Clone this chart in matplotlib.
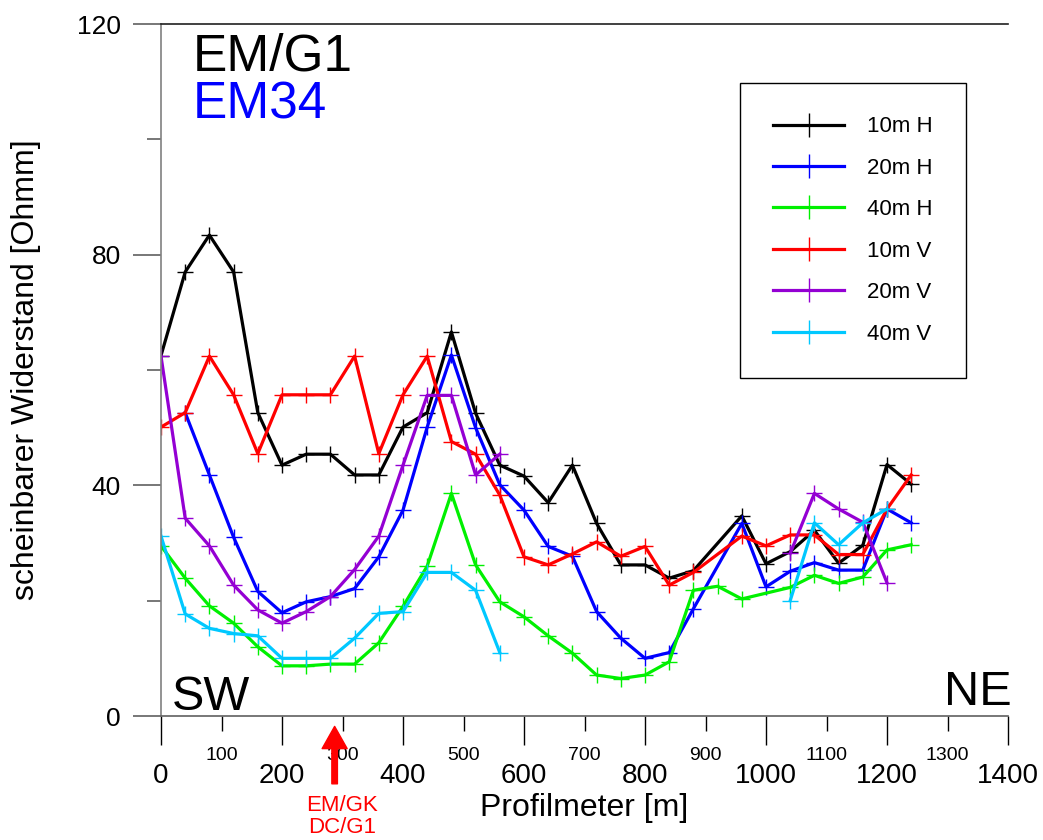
import numpy as np
import matplotlib
matplotlib.use('Agg')
import matplotlib.pyplot as plt
import matplotlib.transforms as mtransforms
from matplotlib.ticker import MultipleLocator

plt.rcParams['font.family'] = ['Liberation Sans', 'DejaVu Sans']

# profile positions [m] and apparent resistivity [Ohmm]
x_h10 = [0, 40, 80, 120, 160, 200, 240, 280, 320, 360, 400, 440, 480, 520, 560, 600,
         640, 680, 720, 760, 800, 840, 880, 960, 1000, 1040, 1080, 1120, 1160, 1200, 1240]
h10 = [62.5, 77.0, 83.4, 77.0, 52.6, 43.5, 45.4, 45.4, 41.8, 41.8, 50.1, 52.6, 66.6, 52.5, 43.5, 41.6,
       37.0, 43.5, 33.4, 26.2, 26.2, 23.9, 25.2, 34.7, 26.4, 28.5, 32.2, 26.5, 29.6, 43.6, 40.2]

x_h20 = [40, 80, 120, 160, 200, 240, 280, 320, 360, 400, 440, 480, 520, 560, 600,
         640, 680, 720, 760, 800, 840, 880, 960, 1000, 1040, 1080, 1120, 1160, 1200, 1240]
h20 = [52.6, 41.8, 31.0, 21.6, 17.9, 19.8, 20.7, 22.1, 27.6, 35.7, 50.1, 62.6, 50.0, 40.1, 35.7,
       29.4, 27.7, 18.1, 13.5, 10.0, 11.0, 18.6, 33.4, 22.4, 25.1, 26.6, 25.3, 25.3, 35.9, 33.5]

x_h40 = [0, 40, 80, 120, 160, 200, 240, 280, 320, 360, 400, 440, 480, 520, 560, 600,
         640, 680, 720, 760, 800, 840, 880, 920, 960, 1040, 1080, 1120, 1160, 1200, 1240]
h40 = [29.5, 23.9, 19.1, 16.1, 12.0, 8.7, 8.7, 9.0, 9.0, 12.7, 19.0, 26.0, 38.6, 26.2, 19.8, 17.2,
       13.9, 10.9, 7.1, 6.5, 7.1, 9.4, 21.8, 22.5, 20.3, 22.3, 24.4, 23.0, 24.1, 28.8, 29.7]

x_v10 = x_h10
v10 = [50.1, 52.6, 62.4, 55.7, 45.5, 55.7, 55.7, 55.7, 62.4, 45.5, 55.7, 62.4, 47.6, 45.4, 38.3, 27.6,
       26.2, 28.1, 30.2, 27.7, 29.4, 22.7, 24.9, 31.2, 29.5, 31.4, 31.4, 28.0, 28.0, 35.9, 41.8]

# nan = no measurement between the two profile sections
x_v20 = [0, 40, 80, 120, 160, 200, 240, 280, 320, 360, 400, 440, 480, 520, 560,
         800, 1040, 1080, 1120, 1160, 1200]
v20 = [62.4, 34.3, 29.5, 22.7, 18.4, 16.1, 18.1, 20.7, 25.4, 31.2, 43.5, 55.6, 55.6, 41.8, 45.4,
       np.nan, 28.2, 38.6, 35.9, 33.6, 23.1]

x_v40 = x_v20
v40 = [31.2, 17.7, 15.2, 14.3, 13.9, 10.0, 10.0, 10.0, 13.5, 17.8, 18.1, 24.9, 24.9, 21.8, 11.0,
       np.nan, 20.0, 33.5, 29.7, 33.5, 35.9]

series = [
    (x_h10, h10, '10m H', 'black'),
    (x_h20, h20, '20m H', '#0000ff'),
    (x_h40, h40, '40m H', '#00f000'),
    (x_v10, v10, '10m V', '#ff0000'),
    (x_v20, v20, '20m V', '#9400d3'),
    (x_v40, v40, '40m V', '#00c8ff'),
]

fig = plt.figure(figsize=(10.43, 8.4), dpi=100)
ax = fig.add_axes([161 / 1043, 1 - 716 / 840, 847 / 1043, 692 / 840])

for xs, ys, name, col in series:
    ax.plot(xs, ys, '-', color=col, lw=2.3, marker='+', ms=11, mew=1.0, label=name)

ax.set_xlim(0, 1400)
ax.set_ylim(0, 120)

# axes frame
ax.spines['right'].set_visible(False)
ax.spines['left'].set_color('#808080')
ax.spines['bottom'].set_color('#606060')
ax.spines['top'].set_color('#202020')
for s in ['left', 'bottom', 'top']:
    ax.spines[s].set_linewidth(1.2)

ax.yaxis.set_major_locator(MultipleLocator(40))
ax.yaxis.set_minor_locator(MultipleLocator(20))
ax.xaxis.set_major_locator(MultipleLocator(200))
ax.set_xticks(np.arange(100, 1400, 200), minor=True)
ax.set_xticklabels([str(v) for v in range(100, 1400, 200)], minor=True)

ax.tick_params(axis='y', which='major', length=20, width=1.2, color='#606060',
               labelsize=19, pad=9)
ax.tick_params(axis='y', which='minor', length=10, width=1.2, color='#606060')
ax.tick_params(axis='x', which='major', length=21, width=1.0, color='black',
               labelsize=20, pad=13)
ax.tick_params(axis='x', which='minor', length=11, width=1.0, color='black',
               labelsize=14, pad=11)

ax.set_xlabel('Profilmeter [m]', fontsize=23, labelpad=3)
ax.set_ylabel('scheinbarer Widerstand [Ohmm]', fontsize=23, labelpad=26)

ax.text(0.038, 0.9335, 'EM/G1', fontsize=37, color='black', transform=ax.transAxes,
        va='baseline', ha='left')
ax.text(0.038, 0.864, 'EM34', fontsize=37, color='#0000ff', transform=ax.transAxes,
        va='baseline', ha='left')
ax.text(0.013, 0.009, 'SW', fontsize=35, transform=ax.transAxes, va='baseline', ha='left')
ax.text(1.005, 0.016, 'NE', fontsize=35, transform=ax.transAxes, va='baseline', ha='right')

# marker for the EM/GK and DC/G1 profile crossing
tr_x = mtransforms.blended_transform_factory(ax.transData, ax.transAxes)
ax.annotate('', xy=(287, -0.015), xycoords=tr_x, xytext=(287, -0.098), textcoords=tr_x,
            arrowprops=dict(facecolor='red', edgecolor='red', width=4, headwidth=18,
                            headlength=16), annotation_clip=False)
ax.text(299, -0.114, 'EM/GK\nDC/G1', color='red', fontsize=16, transform=tr_x,
        ha='center', va='top', linespacing=1.05)

leg = ax.legend(loc='upper left', bbox_to_anchor=(0.6836, 0.9147), borderaxespad=0,
                fontsize=16, handlelength=3.2, handletextpad=1.0, labelspacing=0.92,
                borderpad=1.5, fancybox=False, framealpha=1, edgecolor='black',
                markerscale=1.6)
leg.get_frame().set_linewidth(1.0)

fig.savefig('out.png', dpi=100)
